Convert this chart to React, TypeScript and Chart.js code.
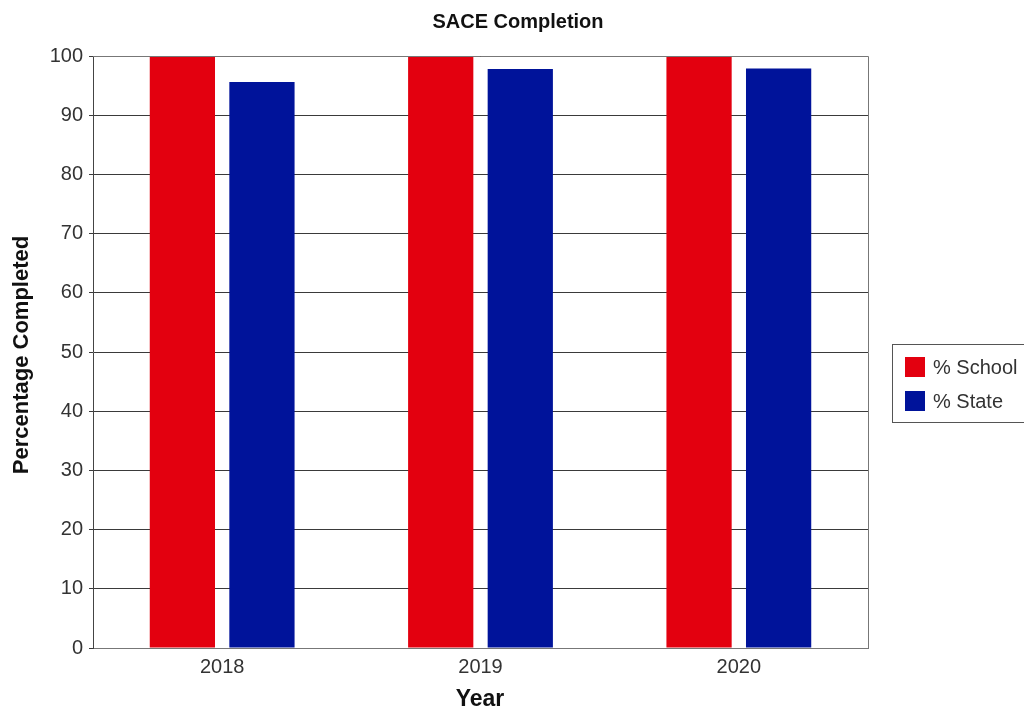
import React, { useEffect, useRef } from "react";
import { Chart, registerables } from "chart.js";

Chart.register(...registerables);

const years = ["2018", "2019", "2020"];
const schoolPct = [100, 100, 100];
const statePct = [95.6, 97.8, 97.9];
const yTicks = [0, 10, 20, 30, 40, 50, 60, 70, 80, 90, 100];

const RED = "#e3000f";
const BLUE = "#00139a";
const FONT = "'Liberation Sans', Arial, sans-serif";

// Title, axis titles and the boxed legend drawn on the canvas
const decorations = {
  id: "decorations",
  afterDraw(chart: any) {
    const ctx = chart.ctx as CanvasRenderingContext2D;
    const area = chart.chartArea;
    ctx.save();
    ctx.fillStyle = "#111";
    ctx.textAlign = "center";
    ctx.textBaseline = "middle";
    ctx.font = `bold 20px ${FONT}`;
    ctx.fillText("SACE Completion", 518, 22);

    ctx.font = `bold 23px ${FONT}`;
    ctx.fillText("Year", 480, 700);

    ctx.save();
    ctx.translate(22, 355);
    ctx.rotate(-Math.PI / 2);
    ctx.font = `bold 22px ${FONT}`;
    ctx.fillText("Percentage Completed", 0, 0);
    ctx.restore();

    // legend box
    ctx.strokeStyle = "#555";
    ctx.lineWidth = 1;
    ctx.strokeRect(892.5, 344.5, 140, 78);
    const items = [
      { label: "% School", color: RED, y: 367 },
      { label: "% State", color: BLUE, y: 401 },
    ];
    ctx.font = `20px ${FONT}`;
    ctx.textAlign = "left";
    items.forEach((it) => {
      ctx.fillStyle = it.color;
      ctx.fillRect(905, it.y - 10, 20, 20);
      ctx.fillStyle = "#333";
      ctx.fillText(it.label, 933, it.y + 1);
    });
    ctx.restore();
  },
};

export default function App() {
  const canvasRef = useRef<HTMLCanvasElement | null>(null);

  useEffect(() => {
    const chart = new Chart(canvasRef.current!, {
      type: "bar",
      data: {
        labels: years,
        datasets: [
          {
            label: "% School",
            data: schoolPct,
            backgroundColor: RED,
            categoryPercentage: 0.616,
            barPercentage: 0.82,
          },
          {
            label: "% State",
            data: statePct,
            backgroundColor: BLUE,
            categoryPercentage: 0.616,
            barPercentage: 0.82,
          },
        ],
      },
      options: {
        animation: false,
        responsive: false,
        maintainAspectRatio: false,
        layout: { padding: { top: 56, right: 156, left: 0, bottom: 0 } },
        plugins: {
          legend: { display: false },
          title: { display: false },
          tooltip: { enabled: false },
        },
        scales: {
          x: {
            grid: { display: false, drawTicks: false },
            border: { display: true, color: "#777", width: 1 },
            ticks: {
              padding: 7,
              color: "#333",
              font: { family: FONT, size: 20 },
            },
            afterFit(scale: any) {
              scale.height = 65;
            },
          },
          y: {
            min: 0,
            max: 100,
            afterBuildTicks(scale: any) {
              scale.ticks = yTicks.map((v) => ({ value: v }));
            },
            grid: {
              color: "#3a3a3a",
              lineWidth: 1,
              drawTicks: true,
              tickLength: 4,
            },
            border: { display: true, color: "#444", width: 1 },
            ticks: {
              padding: 6,
              color: "#333",
              font: { family: FONT, size: 20 },
            },
            afterFit(scale: any) {
              scale.width = 93;
            },
          },
        },
      },
      plugins: [
        decorations,
        {
          id: "frame",
          afterDatasetsDraw(c: any) {
            const { ctx, chartArea: a } = c;
            ctx.save();
            ctx.strokeStyle = "#777";
            ctx.lineWidth = 1;
            ctx.beginPath();
            ctx.moveTo(a.left, a.top + 0.5);
            ctx.lineTo(a.right + 0.5, a.top + 0.5);
            ctx.lineTo(a.right + 0.5, a.bottom);
            ctx.stroke();
            ctx.restore();
          },
        },
      ],
    } as any);
    return () => chart.destroy();
  }, []);

  return (
    <div style={{ position: "absolute", left: 0, top: 0, width: 1024, height: 713, background: "#fff" }}>
      <canvas ref={canvasRef} width={1024} height={713} />
    </div>
  );
}
